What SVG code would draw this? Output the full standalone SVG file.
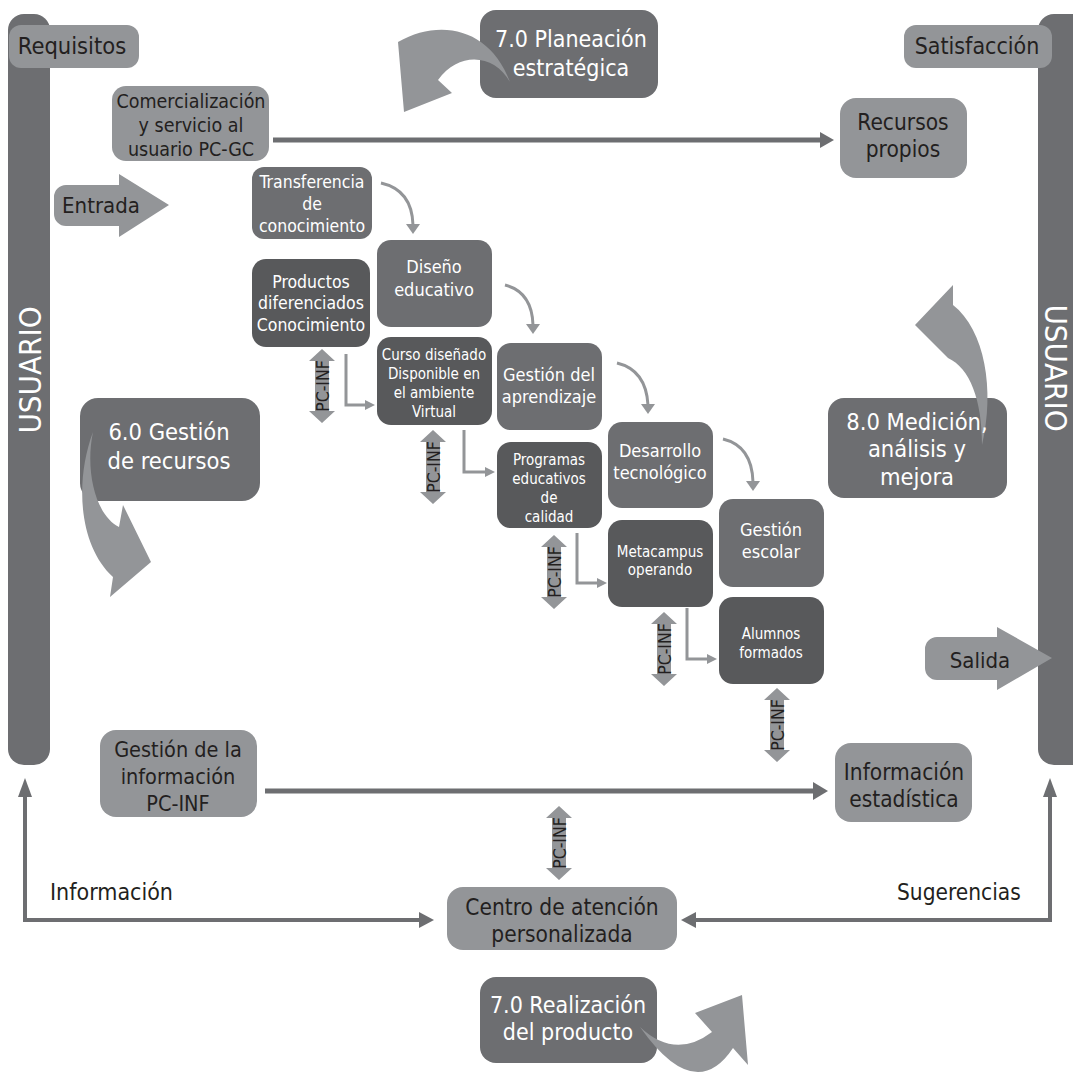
<svg xmlns="http://www.w3.org/2000/svg" xmlns:xlink="http://www.w3.org/1999/xlink" width="1073" height="1073" viewBox="0 0 1073 1073">
<style>
text{font-family:"DejaVu Sans Condensed","DejaVu Sans",sans-serif;text-anchor:middle}
.lt{fill:#939598}
.md{fill:#6d6e71}
.dk{fill:#58595b}
.tw{fill:#ffffff}
.tk{fill:#231f20}
.f23{font-size:23px}
.f22{font-size:22px}
.f21{font-size:21.5px}
.f19{font-size:19.5px}
.f18{font-size:18px}
.f17{font-size:17.5px}
.f15{font-size:15px}
.pc{font-size:17.5px}
.big{stroke:#6d6e71;stroke-width:5;fill:none}
.fb{stroke:#6d6e71;stroke-width:4;fill:none}
.thin{stroke:#939598;stroke-width:3;fill:none}
.ah{fill:#6d6e71}
.ahl{fill:#939598}
</style>
<defs>
<path id="dbl" d="M0,-37 L13,-25 L7,-25 L7,25 L13,25 L0,37 L-13,25 L-7,25 L-7,-25 L-13,-25 Z" fill="#939598"/>
</defs>
<rect width="1073" height="1073" fill="#ffffff"/>

<g id="usuario-left">
<rect x="8" y="14" width="42" height="751" rx="16" class="md"/>
<text transform="translate(30,370) rotate(-90)" x="0" y="11" class="tw" style="font-size:31px">USUARIO</text>
</g>
<g id="usuario-right">
<rect x="1038" y="14" width="52" height="751" rx="16" class="md"/>
<text transform="translate(1056,368) rotate(90)" x="0" y="11" class="tw" style="font-size:31px">USUARIO</text>
</g>
<g id="requisitos">
<rect x="9" y="25" width="130" height="43" rx="12" class="lt"/>
<text x="72" y="54" class="tk" style="font-size:23.5px">Requisitos</text>
</g>
<g id="satisfaccion">
<rect x="904" y="25" width="148" height="43" rx="12" class="lt"/>
<text x="977" y="54" class="tk f23">Satisfacción</text>
</g>

<g id="connectors">
<line x1="273" y1="140" x2="822" y2="140" class="big"/>
<polygon points="820,132 834,140 820,148" class="ah"/>
<line x1="265" y1="791" x2="815" y2="791" class="big"/>
<polygon points="813,782 828,791 813,800" class="ah"/>
<polyline points="25,797 25,920 420,920" class="fb"/>
<polygon points="18,797 25,778 32,797" class="ah"/>
<polygon points="419,912 434,920 419,928" class="ah"/>
<polyline points="1050,797 1050,920 695,920" class="fb"/>
<polygon points="1043,797 1050,778 1057,797" class="ah"/>
<polygon points="696,912 681,920 696,928" class="ah"/>
<path d="M381,183 Q412,190 413,225" class="thin"/>
<polygon points="406,224 420,224 413,234" class="ahl"/>
<path d="M505,285 Q532,292 533,325" class="thin"/>
<polygon points="526,324 540,324 533,334" class="ahl"/>
<path d="M617,363 Q646,370 648,405" class="thin"/>
<polygon points="641,404 655,404 648,414" class="ahl"/>
<path d="M723,439 Q752,446 753,482" class="thin"/>
<polygon points="746,481 760,481 753,491" class="ahl"/>
<polyline points="346,354 346,405 367,405" class="thin"/>
<polygon points="365,400 375,405 365,410" class="ahl"/>
<polyline points="464,430 464,472 487,472" class="thin"/>
<polygon points="485,467 495,472 485,477" class="ahl"/>
<polyline points="577,533 577,583 599,583" class="thin"/>
<polygon points="597,578 607,583 597,588" class="ahl"/>
<polyline points="687,608 687,659 709,659" class="thin"/>
<polygon points="707,654 717,659 707,664" class="ahl"/>
<g id="pcinf-arrows">
<use xlink:href="#dbl" href="#dbl" transform="translate(322,386)"/>
<text transform="translate(322,386) rotate(-90)" x="0" y="6.5" class="tk pc">PC-INF</text>
<use xlink:href="#dbl" href="#dbl" transform="translate(433,467)"/>
<text transform="translate(433,467) rotate(-90)" x="0" y="6.5" class="tk pc">PC-INF</text>
<use xlink:href="#dbl" href="#dbl" transform="translate(554,572)"/>
<text transform="translate(554,572) rotate(-90)" x="0" y="6.5" class="tk pc">PC-INF</text>
<use xlink:href="#dbl" href="#dbl" transform="translate(664,649)"/>
<text transform="translate(664,649) rotate(-90)" x="0" y="6.5" class="tk pc">PC-INF</text>
<use xlink:href="#dbl" href="#dbl" transform="translate(777,725)"/>
<text transform="translate(777,725) rotate(-90)" x="0" y="6.5" class="tk pc">PC-INF</text>
<use xlink:href="#dbl" href="#dbl" transform="translate(559,843)"/>
<text transform="translate(559,843) rotate(-90)" x="0" y="6.5" class="tk pc">PC-INF</text>
</g>
</g>

<g id="comercializacion">
<rect x="112" y="86" width="157" height="75" rx="14" class="lt"/>
<text x="191" y="108" class="tk f19">Comercialización</text>
<text x="191" y="132" class="tk f19">y servicio al</text>
<text x="191" y="156" class="tk f19">usuario PC-GC</text>
</g>
<g id="entrada">
<path d="M66,185 H119 V174 L169,205 L119,237 V226 H66 A12,12 0 0 1 54,214 V197 A12,12 0 0 1 66,185 Z" class="lt"/>
<text x="101" y="213" class="tk f22">Entrada</text>
</g>
<g id="recursos-propios">
<rect x="840" y="98" width="127" height="80" rx="16" class="lt"/>
<text x="903" y="130" class="tk" style="font-size:22.5px">Recursos</text>
<text x="903" y="157" class="tk" style="font-size:22.5px">propios</text>
</g>
<g id="planeacion">
<rect x="480" y="10" width="178" height="88" rx="16" class="md"/>
<path d="M510,82 C490,28 440,18 398,42 L404,112 L452,93 L438,80 C460,50 495,55 510,82 Z" class="lt"/>
<text x="571" y="47" class="tw f23">7.0 Planeación</text>
<text x="571" y="76" class="tw f23">estratégica</text>
</g>
<g id="medicion">
<rect x="828" y="398" width="179" height="100" rx="16" class="md"/>
<path d="M982,445 C982,400 970,368 948,358 L915,325 L953,285 L953,305 C985,330 995,390 982,445 Z" class="lt"/>
<text x="917" y="430" class="tw" style="font-size:23.5px">8.0 Medición,</text>
<text x="917" y="457" class="tw" style="font-size:23.5px">análisis y</text>
<text x="917" y="485" class="tw" style="font-size:23.5px">mejora</text>
</g>
<g id="gestion-recursos">
<rect x="80" y="398" width="180" height="103" rx="18" class="md"/>
<path d="M93,432 C75,480 78,545 113,577 L110,597 L151,562 L123,505 L119,527 C95,515 85,470 93,432 Z" class="lt"/>
<text x="169" y="440" class="tw" style="font-size:23.5px">6.0 Gestión</text>
<text x="169" y="469" class="tw" style="font-size:23.5px">de recursos</text>
</g>
<g id="transferencia">
<rect x="252" y="167" width="120" height="72" rx="12" class="md"/>
<text x="312" y="188" class="tw f17">Transferencia</text>
<text x="312" y="210" class="tw f17">de</text>
<text x="312" y="232" class="tw f17">conocimiento</text>
</g>
<g id="productos">
<rect x="252" y="259" width="118" height="88" rx="14" class="dk"/>
<text x="311" y="288" class="tw f17">Productos</text>
<text x="311" y="309" class="tw f17">diferenciados</text>
<text x="311" y="331" class="tw f17">Conocimiento</text>
</g>
<g id="diseno">
<rect x="377" y="240" width="115" height="87" rx="14" class="md"/>
<text x="434" y="273" class="tw f18">Diseño</text>
<text x="434" y="296" class="tw f18">educativo</text>
</g>
<g id="curso">
<rect x="377" y="337" width="115" height="88" rx="14" class="dk"/>
<text x="434" y="360" class="tw f15">Curso diseñado</text>
<text x="434" y="379" class="tw f15">Disponible en</text>
<text x="434" y="398" class="tw f15">el ambiente</text>
<text x="434" y="417" class="tw f15">Virtual</text>
</g>
<g id="gestion-aprendizaje">
<rect x="497" y="343" width="105" height="87" rx="14" class="md"/>
<text x="549" y="381" class="tw f18">Gestión del</text>
<text x="549" y="403" class="tw f18">aprendizaje</text>
</g>
<g id="programas">
<rect x="497" y="442" width="105" height="86" rx="14" class="dk"/>
<text x="549" y="465" class="tw f15">Programas</text>
<text x="549" y="484" class="tw f15">educativos</text>
<text x="549" y="503" class="tw f15">de</text>
<text x="549" y="522" class="tw f15">calidad</text>
</g>
<g id="desarrollo">
<rect x="608" y="422" width="105" height="86" rx="14" class="md"/>
<text x="660" y="457" class="tw f18">Desarrollo</text>
<text x="660" y="479" class="tw f18">tecnológico</text>
</g>
<g id="metacampus">
<rect x="608" y="520" width="105" height="87" rx="14" class="dk"/>
<text x="660" y="557" class="tw f15">Metacampus</text>
<text x="660" y="575" class="tw f15">operando</text>
</g>
<g id="gestion-escolar">
<rect x="719" y="499" width="105" height="88" rx="14" class="md"/>
<text x="771" y="536" class="tw f18">Gestión</text>
<text x="771" y="558" class="tw f18">escolar</text>
</g>
<g id="alumnos">
<rect x="719" y="597" width="105" height="87" rx="14" class="dk"/>
<text x="771" y="639" class="tw f15">Alumnos</text>
<text x="771" y="658" class="tw f15">formados</text>
</g>
<g id="salida">
<path d="M937,637 H997 V627 L1052,658 L997,690 V680 H937 A12,12 0 0 1 925,668 V649 A12,12 0 0 1 937,637 Z" class="lt"/>
<text x="980" y="668" class="tk f22">Salida</text>
</g>
<g id="gestion-informacion">
<rect x="100" y="730" width="157" height="87" rx="16" class="lt"/>
<text x="178" y="757" class="tk f21">Gestión de la</text>
<text x="178" y="784" class="tk f21">información</text>
<text x="178" y="811" class="tk f21">PC-INF</text>
</g>
<g id="informacion-estadistica">
<rect x="835" y="743" width="137" height="79" rx="16" class="lt"/>
<text x="904" y="780" class="tk" style="font-size:22.5px">Información</text>
<text x="904" y="807" class="tk" style="font-size:22.5px">estadística</text>
</g>
<g id="centro-atencion">
<rect x="447" y="887" width="230" height="63" rx="16" class="lt"/>
<text x="562" y="915" class="tk" style="font-size:22.5px">Centro de atención</text>
<text x="562" y="942" class="tk" style="font-size:22.5px">personalizada</text>
</g>
<g id="labels">
<text x="50" y="900" class="tk f23" style="text-anchor:start">Información</text>
<text x="897" y="900" class="tk" style="text-anchor:start;font-size:22.5px">Sugerencias</text>
</g>
<g id="realizacion">
<rect x="480" y="977" width="177" height="86" rx="16" class="md"/>
<path d="M640,1027 Q675,1060 712,1032 L695,1013 L742,995 L748,1065 L733,1048 Q695,1105 640,1027 Z" class="lt"/>
<text x="568" y="1013" class="tw f23">7.0 Realización</text>
<text x="568" y="1040" class="tw f23">del producto</text>
</g>
</svg>
